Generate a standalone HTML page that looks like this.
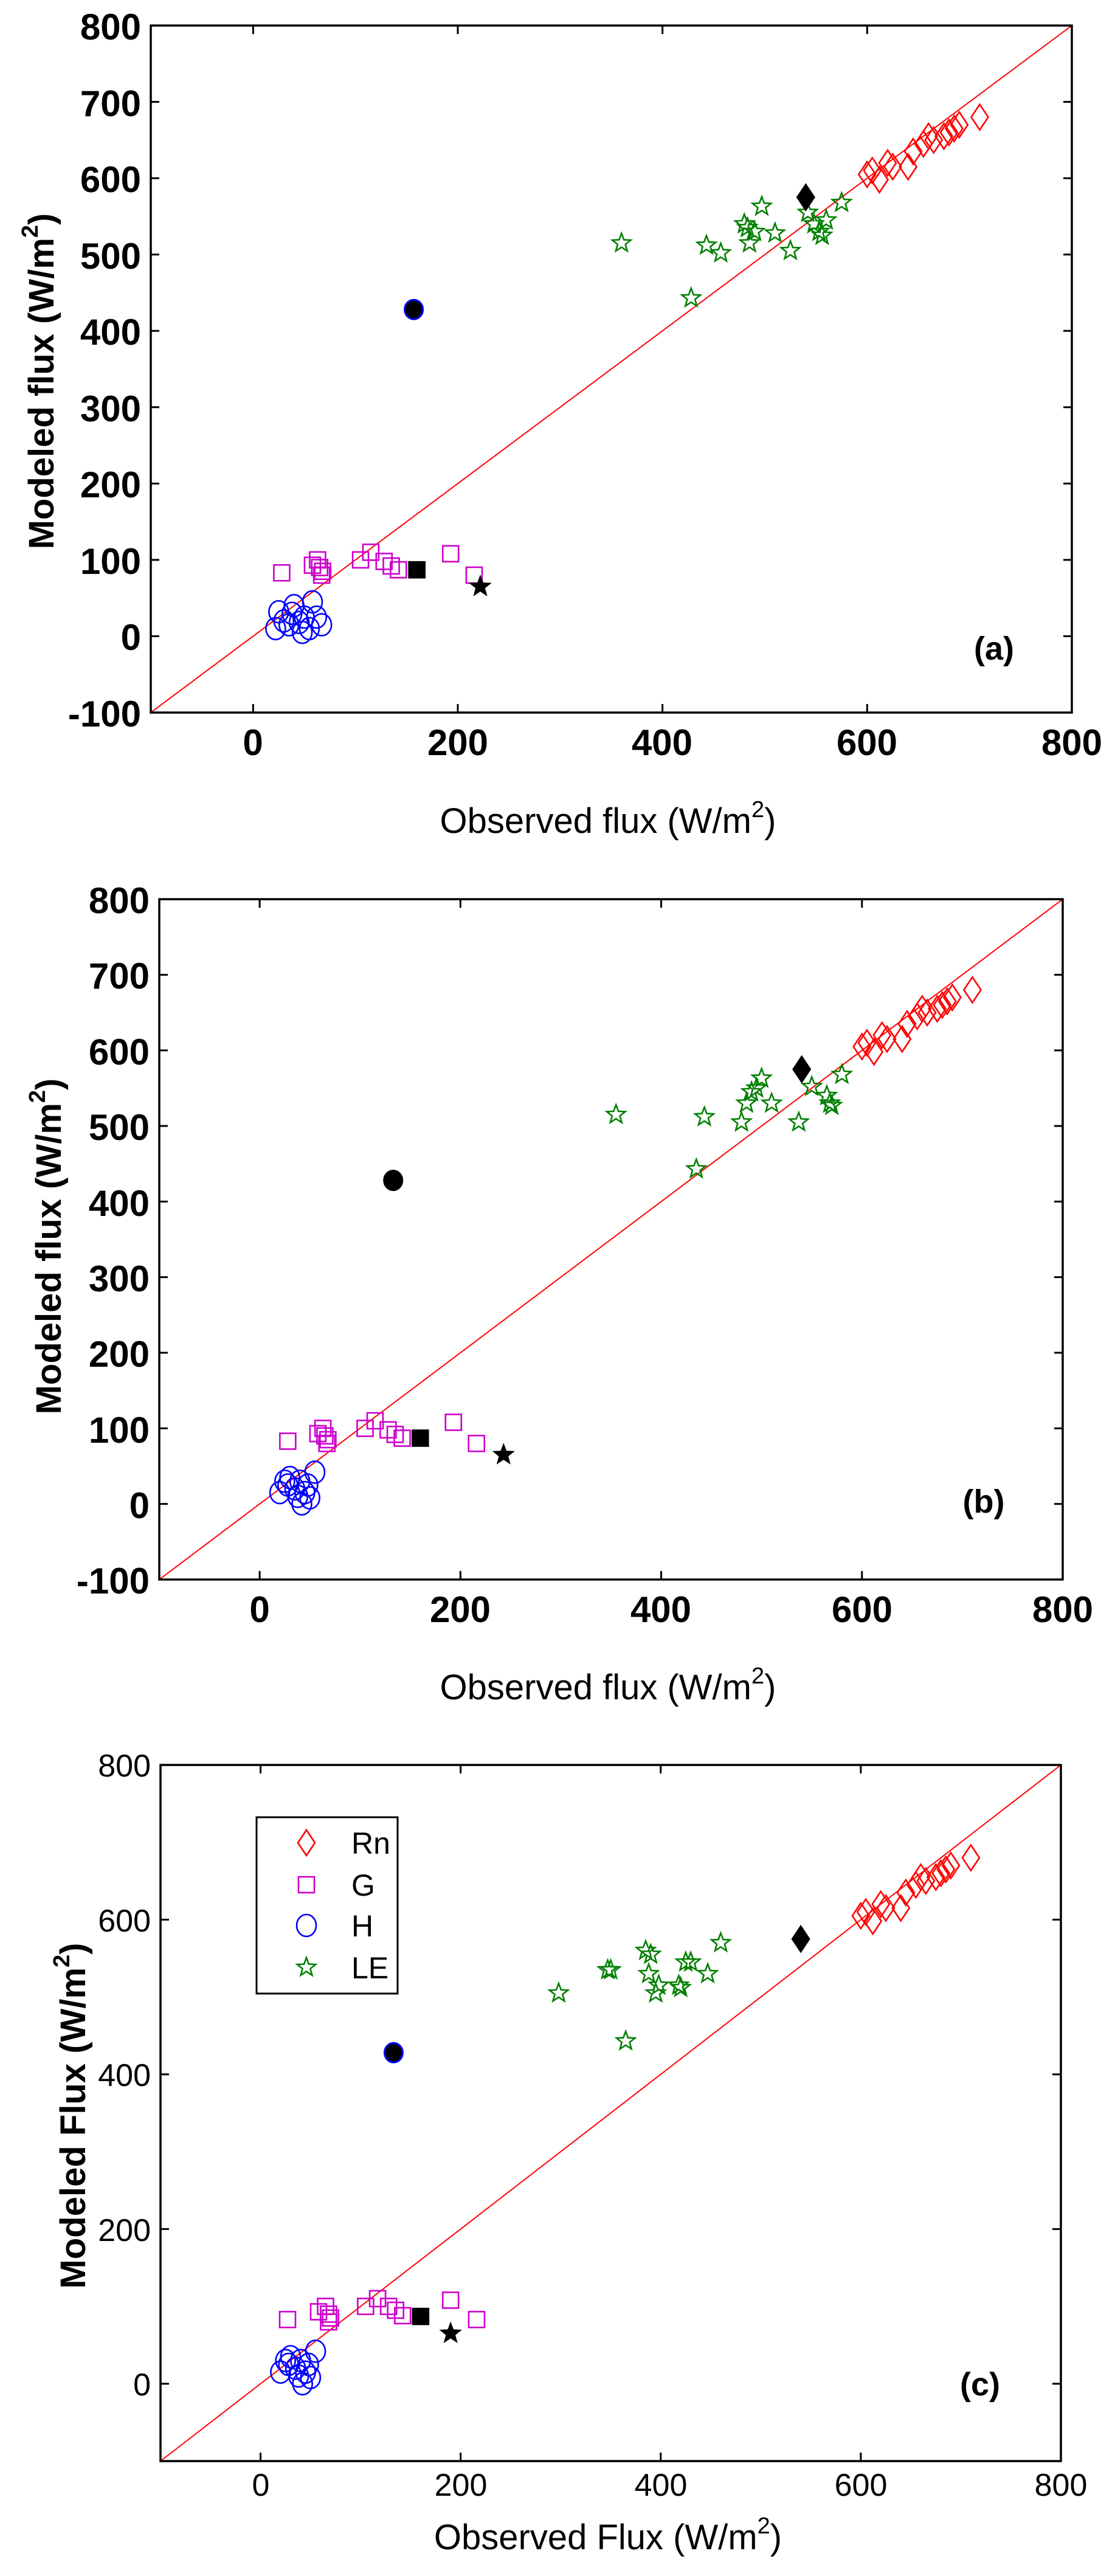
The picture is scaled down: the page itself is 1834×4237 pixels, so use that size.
<!DOCTYPE html>
<html><head><meta charset="utf-8"><style>
html,body{margin:0;padding:0;background:#fff;}
svg{display:block;}
text{font-family:"Liberation Sans",Arial,sans-serif;fill:#000;}
.tb{font-size:60px;font-weight:bold;}
.tn{font-size:52px;}
.lab{font-size:58px;}
.ylab{font-size:58px;font-weight:bold;}
</style></head><body>
<svg id="s" width="1834" height="4237" viewBox="0 0 1834 4237" xmlns="http://www.w3.org/2000/svg">
<rect width="1834" height="4237" fill="#fff"/>
<g id="plots"></g>
<g class="tb">
<text x="232" y="65" text-anchor="end">800</text>
<text x="232" y="191" text-anchor="end">700</text>
<text x="232" y="316" text-anchor="end">600</text>
<text x="232" y="442" text-anchor="end">500</text>
<text x="232" y="567" text-anchor="end">400</text>
<text x="232" y="693" text-anchor="end">300</text>
<text x="232" y="818" text-anchor="end">200</text>
<text x="232" y="944" text-anchor="end">100</text>
<text x="232" y="1069" text-anchor="end">0</text>
<text x="232" y="1195" text-anchor="end">-100</text>
<text x="416" y="1242" text-anchor="middle">0</text>
<text x="753" y="1242" text-anchor="middle">200</text>
<text x="1089" y="1242" text-anchor="middle">400</text>
<text x="1426" y="1242" text-anchor="middle">600</text>
<text x="1763" y="1242" text-anchor="middle">800</text>
<text x="1635" y="1085" text-anchor="middle" style="font-size:54px">(a)</text>
</g>
<text class="lab" x="1000" y="1370" text-anchor="middle">Observed flux (W/m<tspan dy="-26" style="font-size:38px">2</tspan><tspan dy="26">)</tspan></text>
<text class="ylab" transform="translate(88,627) rotate(-90)" text-anchor="middle">Modeled flux (W/m<tspan dy="-26" style="font-size:38px">2</tspan><tspan dy="26">)</tspan></text>

<g class="tb">
<text x="246" y="1502" text-anchor="end">800</text>
<text x="246" y="1626" text-anchor="end">700</text>
<text x="246" y="1751" text-anchor="end">600</text>
<text x="246" y="1875" text-anchor="end">500</text>
<text x="246" y="2000" text-anchor="end">400</text>
<text x="246" y="2124" text-anchor="end">300</text>
<text x="246" y="2248" text-anchor="end">200</text>
<text x="246" y="2373" text-anchor="end">100</text>
<text x="246" y="2497" text-anchor="end">0</text>
<text x="246" y="2621" text-anchor="end">-100</text>
<text x="427" y="2668" text-anchor="middle">0</text>
<text x="757" y="2668" text-anchor="middle">200</text>
<text x="1087" y="2668" text-anchor="middle">400</text>
<text x="1418" y="2668" text-anchor="middle">600</text>
<text x="1748" y="2668" text-anchor="middle">800</text>
<text x="1618" y="2488" text-anchor="middle" style="font-size:54px">(b)</text>
</g>
<text class="lab" x="1000" y="2795" text-anchor="middle">Observed flux (W/m<tspan dy="-26" style="font-size:38px">2</tspan><tspan dy="26">)</tspan></text>
<text class="ylab" transform="translate(100,2050) rotate(-90)" text-anchor="middle">Modeled flux (W/m<tspan dy="-26" style="font-size:38px">2</tspan><tspan dy="26">)</tspan></text>

<g class="tn">
<text x="248" y="2922" text-anchor="end">800</text>
<text x="248" y="3177" text-anchor="end">600</text>
<text x="248" y="3431" text-anchor="end">400</text>
<text x="248" y="3686" text-anchor="end">200</text>
<text x="248" y="3940" text-anchor="end">0</text>
<text x="429" y="4105" text-anchor="middle">0</text>
<text x="758" y="4105" text-anchor="middle">200</text>
<text x="1087" y="4105" text-anchor="middle">400</text>
<text x="1416" y="4105" text-anchor="middle">600</text>
<text x="1745" y="4105" text-anchor="middle">800</text>
</g>
<text x="1612" y="3940" text-anchor="middle" style="font-size:54px;font-weight:bold">(c)</text>
<text class="lab" x="1000" y="4193" text-anchor="middle">Observed Flux (W/m<tspan dy="-26" style="font-size:38px">2</tspan><tspan dy="26">)</tspan></text>
<text class="ylab" transform="translate(140,3480) rotate(-90)" text-anchor="middle">Modeled Flux (W/m<tspan dy="-26" style="font-size:38px">2</tspan><tspan dy="26">)</tspan></text>
<rect x="422" y="2989" width="232" height="290" fill="#fff" stroke="#000" stroke-width="3"/>
<g style="font-size:50px">
<text x="578" y="3049">Rn</text>
<text x="578" y="3118">G</text>
<text x="578" y="3185">H</text>
<text x="578" y="3254">LE</text>
</g>
<g id="leg"></g>
</svg>
<script>
var NS="http://www.w3.org/2000/svg";
var g=document.getElementById('plots');
function el(t,a,p){var e=document.createElementNS(NS,t);for(var k in a)e.setAttribute(k,a[k]);(p||g).appendChild(e);return e;}
function star(cx,cy,r){var s="";for(var i=0;i<10;i++){var rr=i%2?r*0.42:r;var a=-Math.PI/2+i*Math.PI/5;s+=(cx+rr*Math.cos(a)).toFixed(1)+","+(cy+rr*Math.sin(a)).toFixed(1)+" ";}return s;}
function mark(type,x,y,col,fill,par,sz){
 sz=sz||1;var sw=2.6;var p=par||g;
 if(type=='d'){var w=14*sz,h=21*sz;el('polygon',{points:(x)+","+(y-h)+" "+(x+w)+","+y+" "+x+","+(y+h)+" "+(x-w)+","+y,fill:fill||'none',stroke:col,'stroke-width':sw},p);}
 else if(type=='s'){var a=13*sz;el('rect',{x:x-a,y:y-a,width:2*a,height:2*a,fill:fill||'none',stroke:col,'stroke-width':sw},p);}
 else if(type=='o'){el('ellipse',{cx:x,cy:y,rx:16*sz,ry:18*sz,fill:fill||'none',stroke:col,'stroke-width':sw},p);}
 else if(type=='p'){el('polygon',{points:star(x,y,16*sz),fill:fill||'none',stroke:col,'stroke-width':sw},p);}
}
var RED='#ff0000',MAG='#cc00cc',BLU='#0000ff',GRN='#008000';
function panel(P){
 var X=function(v){return P.l+(v+100)*(P.r-P.l)/900;};
 var Y=function(v){return P.b-(v+100)*(P.b-P.t)/900;};
 el('line',{x1:X(-100),y1:Y(-100),x2:X(800),y2:Y(800),stroke:'#ff0000','stroke-width':2});
 P.H.forEach(function(d){mark('o',X(d[0]),Y(d[1]),BLU);});
 P.G.forEach(function(d){mark('s',X(d[0]),Y(d[1]),MAG);});
 P.LE.forEach(function(d){mark('p',X(d[0]),Y(d[1]),GRN);});
 P.Rn.forEach(function(d){mark('d',X(d[0]),Y(d[1]),RED);});
 mark('d',X(540),Y(575),'#000','#000',null,1.0);
 mark('s',X(160),Y(87),'#000','#000',null,1.0);
 mark('p',X(P.bs),Y(65),'#000','#000');
 el('ellipse',{cx:X(P.bc),cy:Y(428),rx:15,ry:16,fill:'#000',stroke:P.bcb?BLU:'#000','stroke-width':3});
 el('rect',{x:P.l,y:P.t,width:P.r-P.l,height:P.b-P.t,fill:'none',stroke:'#000','stroke-width':3.5});
 P.xt.forEach(function(v){var x=X(v);el('line',{x1:x,y1:P.b,x2:x,y2:P.b-14,stroke:'#000','stroke-width':3});el('line',{x1:x,y1:P.t,x2:x,y2:P.t+14,stroke:'#000','stroke-width':3});});
 P.yt.forEach(function(v){var y=Y(v);el('line',{x1:P.l,y1:y,x2:P.l+14,y2:y,stroke:'#000','stroke-width':3});el('line',{x1:P.r,y1:y,x2:P.r-14,y2:y,stroke:'#000','stroke-width':3});});
}
var Rn=[[600,605],[605,610],[612,598],[620,620],[625,615],[640,615],[645,635],[655,645],[660,655],[665,650],[675,655],[680,660],[685,665],[690,670],[710,680]];
var G=[[28,83],[58,93],[63,100],[65,90],[67,80],[68,85],[105,100],[115,110],[128,98],[135,92],[142,87],[193,108],[216,80]];
var Ha=[[22,10],[25,32],[30,20],[38,30],[40,40],[45,18],[48,5],[50,25],[58,45],[62,25],[67,15],[55,10],[35,15]];
var Hb=[[20,15],[25,30],[30,35],[35,20],[40,30],[42,0],[45,15],[48,25],[55,42],[38,10],[28,25],[50,8]];
var yt100=[-100,0,100,200,300,400,500,600,700,800];
panel({l:248,r:1763,t:42,b:1172,Rn:Rn,G:G,H:Ha,bs:222,bc:157,bcb:true,xt:[0,200,400,600],yt:yt100,
 LE:[[360,515],[428,443],[443,512],[457,502],[480,540],[483,535],[485,515],[490,530],[497,563],[510,528],[525,505],[542,555],[548,540],[553,530],[556,525],[560,545],[575,568]]});
panel({l:262,r:1748,t:1479,b:2598,Rn:Rn,G:G,H:Hb,bs:243,bc:133,bcb:false,xt:[0,200,400,600],yt:yt100,
 LE:[[355,515],[435,443],[443,512],[480,505],[485,530],[490,545],[495,550],[500,563],[510,530],[537,505],[550,552],[565,540],[568,530],[570,527],[580,568]]});
panel({l:264,r:1745,t:2903,b:4048,Rn:Rn,G:[[27,83],[58,93],[65,100],[68,90],[68,80],[70,85],[105,100],[117,110],[128,100],[135,95],[142,88],[190,108],[216,83]],H:Hb,bs:190,bc:133,bcb:true,xt:[0,200,400,600],yt:[0,200,400,600],
 LE:[[298,505],[347,535],[350,535],[365,443],[385,560],[388,530],[390,555],[395,505],[398,515],[418,515],[420,512],[425,545],[430,545],[447,530],[460,570]]});
var lg=document.getElementById('leg');
mark('d',504,3031,RED,null,lg,1.0);
mark('s',504,3100,MAG,null,lg,1.0);
mark('o',504,3167,BLU,null,lg,1.0);
mark('p',504,3236,GRN,null,lg,1.0);
</script>
</body></html>
